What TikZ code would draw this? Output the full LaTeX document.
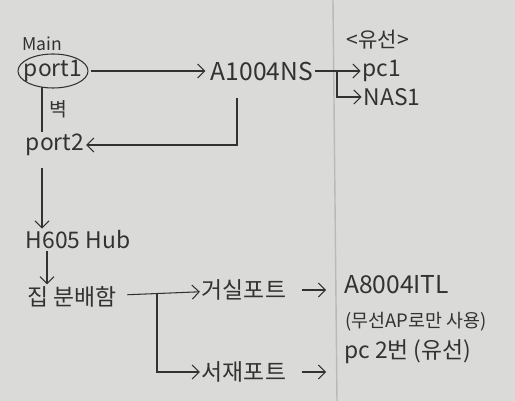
\documentclass[tikz,border=0pt]{standalone}
\usepackage{fontspec}
\setmainfont{Noto Sans CJK KR}
\usepackage{xcolor}
\usepackage{tikz}
\usetikzlibrary{
    positioning,
    arrows.meta
}
\definecolor{paper}{RGB}{218,218,216}
\definecolor{ink}{RGB}{50,50,50}

\begin{document}
\begin{tikzpicture}[x=0.02cm, y=-0.02cm,
    every node/.style={text=ink, inner sep=1pt, font=\fontsize{13}{15}\selectfont},
    small/.style={font=\fontsize{10}{12}\selectfont},
    link/.style={draw=ink, line width=0.6pt, -{Straight Barb[length=4pt,width=8pt]}},
    wire/.style={draw=ink, line width=0.6pt}]
    % 종이 배경
    \fill[paper] (0,0) rectangle (515,401);
    \useasboundingbox (0,0) rectangle (515,401);
    % 접힌 자국
    \draw[gray!55, line width=0.8pt] (333,0) -- (337,401);

    \coordinate (colA) at (42,0);
    \coordinate (colB) at (47,0);

    \node[small] (main) at (42,44) {Main};
    \node (port1) at (53,71) {port1};
    \draw[wire] (port1) ellipse [x radius=35, y radius=17];
    \node[font=\fontsize{14}{16}\selectfont] (a1004) at (262,71) {A1004NS};
    \node[font=\fontsize{12}{14}\selectfont] (wired) at (378,40) {<유선>};
    \node (pc1) at (382,71) {pc1};
    \node (nas1) at (392,97) {NAS1};
    \node (port2) at (55,145) {port2};
    \node (hub) at (78,240) {H605 Hub};
    \node (box) at (72,297) {집 분배함};
    \node (living) at (244,290) {거실포트};
    \node (study) at (244,372) {서재포트};
    \node[anchor=west, font=\fontsize{14}{16}\selectfont] (ap) at (342,285) {A8004ITL};
    \node[anchor=west, font=\fontsize{10.5}{12}\selectfont] (apnote) at (343,322) {(무선AP로만 사용)};
    \node[anchor=west] (pc2) at (342,352) {pc 2번 (유선)};

    % 연결
    \draw[link, shorten <=4pt, shorten >=2pt] (port1) -- (a1004);
    \draw[link] (a1004) -- (pc1);
    \coordinate (split1) at (337,71);
    \draw[link] (split1) |- (nas1);
    \coordinate (turn1) at (237,98);
    \draw[link] (turn1) |- (port2);
    \draw[wire] (port1.south -| colA) ++(0,3) -- (port2.north -| colA)
        node[midway, right=3pt, font=\fontsize{11}{13}\selectfont] {벽};
    \draw[link] (port2.south -| colA) ++(0,10) -- (hub.north -| colA);
    \draw[link] (hub.south -| colB) -- (box.north -| colB);
    \draw[link, shorten <=5pt] (box) -- (living);
    \coordinate (split2) at (157,294);
    \draw[link] (split2) |- (study);
    \draw[link, shorten <=8pt, shorten >=9pt] (living) -- (ap.west |- living);
    \draw[link, shorten <=8pt, shorten >=9pt] (study) -- (pc2.west |- study);
\end{tikzpicture}
\end{document}
